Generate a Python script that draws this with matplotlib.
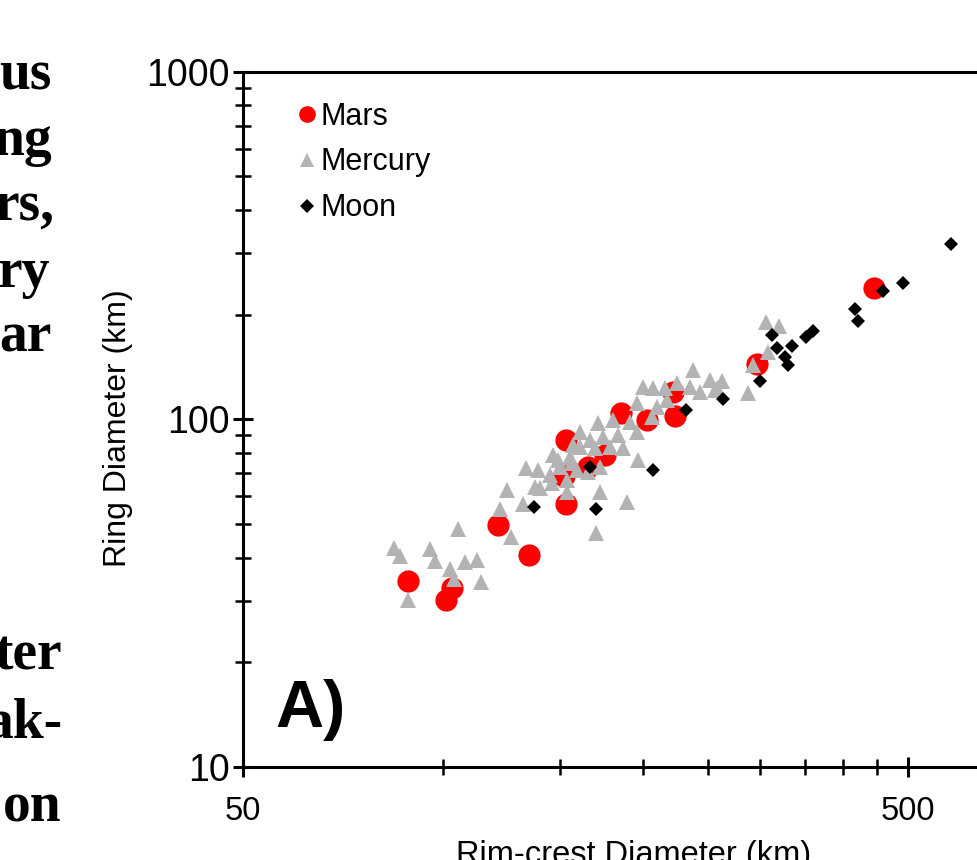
"""Figure A: ring diameter vs rim-crest diameter for peak-ring basins."""
import matplotlib
matplotlib.use("Agg")
import matplotlib.pyplot as plt
from matplotlib.lines import Line2D
from matplotlib.ticker import FixedLocator, FixedFormatter, NullFormatter

plt.rcParams["font.family"] = ["Liberation Sans", "DejaVu Sans"]

# values (km)
mars_rim = [88.5, 102.9, 101.0, 121.0, 134.6, 153.0, 152.0, 153.0, 165.0,
            175.0, 185.0, 202.6, 221.7, 223.0, 296.6, 444.9]
mars_ring = [34.3, 32.7, 30.2, 49.7, 40.7, 57.1, 68.7, 87.2, 73.0,
             79.0, 104.3, 99.6, 119.9, 102.3, 144.3, 238.8]

mercury_rim = [84.3, 86.1, 95.5, 97.2, 105.2, 102.3, 103.8, 107.8, 112.4, 113.9,
               88.5, 124.7, 121.7, 126.4, 131.8, 133.2, 138.8, 137.4, 139.8, 145.7,
               146.2, 148.8, 153.6, 155.2, 156.2, 159.0, 156.8, 160.6, 160.6, 166.3,
               169.2, 171.0, 173.9, 178.2, 180.0, 183.2, 186.4, 191.0, 195.6, 195.6,
               196.3, 199.8, 206.1, 206.8, 209.7, 215.6, 217.1, 224.8, 235.2, 237.6,
               243.4, 252.0, 258.2, 172.2, 189.0, 169.8, 165.2, 172.2, 144.7, 153.6,
               149.9, 306.0, 320.1, 292.5, 287.5, 262.7, 256.4, 308.2]
mercury_ring = [42.7, 40.5, 42.4, 39.1, 48.4, 37.1, 34.7, 38.9, 39.4, 34.1,
                30.2, 62.7, 55.2, 45.9, 57.1, 72.5, 71.5, 63.9, 63.5, 65.6,
                79.0, 76.4, 61.8, 78.0, 74.9, 71.5, 84.4, 92.0, 83.3, 87.2,
                82.8, 97.6, 89.0, 83.3, 99.6, 90.2, 82.8, 98.3, 92.0, 111.5,
                76.4, 124.0, 101.6, 123.1, 108.6, 123.1, 113.7, 127.3, 124.0, 138.7,
                119.9, 129.8, 123.1, 61.8, 57.9, 47.1, 70.6, 73.0, 69.2, 66.9,
                73.0, 190.6, 185.6, 143.4, 119.1, 128.9, 121.5, 156.3]

moon_rim = [581.0, 491.9, 459.0, 416.6, 421.0, 360.0, 351.5, 334.9, 312.5, 317.9,
            326.8, 330.2, 299.7, 263.6, 231.9, 166.3, 206.9, 136.9, 169.8]
moon_ring = [319.6, 246.9, 234.1, 207.8, 191.9, 179.6, 172.6, 162.6, 174.9, 160.5,
             151.2, 143.4, 128.9, 114.5, 106.4, 73.0, 71.5, 56.0, 55.2]

x_major = [50, 500]
x_minor = [100, 150, 200, 250, 300, 350, 400, 450]
y_major = [10, 100, 1000]
y_minor = [20, 30, 40, 50, 60, 70, 80, 90, 200, 300, 400, 500, 600, 700, 800, 900]

# surrounding paragraph text (clipped at the left edge of the page crop)
para_lines = ["us", "ng", "rs,", "ry", "ar", "ter", "ak-", "on"]

RED = "#ff0000"
GREY = "#b3b3b3"


def main():
    W, H = 978, 860
    fig = plt.figure(figsize=(W / 100, H / 100), dpi=100)
    ax = fig.add_axes([243.3 / W, 93 / H, 781.4 / W, 695.3 / H])

    ax.plot(mars_rim, mars_ring, "o", color=RED, ms=16, mew=0, zorder=3)
    ax.plot(mercury_rim, mercury_ring, "^", color=GREY, ms=11.5, mew=0, zorder=4)
    ax.plot(moon_rim, moon_ring, "D", color="black", ms=7, mew=0, zorder=5)

    ax.set_xscale("log")
    ax.set_yscale("log")
    ax.set_xlim(50, 750)
    ax.set_ylim(10, 1000)

    ax.xaxis.set_major_locator(FixedLocator(x_major))
    ax.xaxis.set_major_formatter(FixedFormatter([str(v) for v in x_major]))
    ax.xaxis.set_minor_locator(FixedLocator(x_minor))
    ax.xaxis.set_minor_formatter(NullFormatter())
    ax.yaxis.set_major_locator(FixedLocator(y_major))
    ax.yaxis.set_major_formatter(FixedFormatter([str(v) for v in y_major]))
    ax.yaxis.set_minor_locator(FixedLocator(y_minor))
    ax.yaxis.set_minor_formatter(NullFormatter())

    for s in ax.spines.values():
        s.set_linewidth(2.2)
    ax.tick_params(which="major", direction="inout", length=14, width=2.2)
    ax.tick_params(which="minor", direction="inout", length=11, width=1.8)
    ax.tick_params(axis="x", which="major", pad=14, labelsize=23.5)
    ax.tick_params(axis="y", which="major", pad=3, labelsize=27)

    ax.set_xlabel("Rim-crest Diameter (km)", fontsize=23.5)
    ax.set_ylabel("Ring Diameter (km)", fontsize=23)
    ax.xaxis.set_label_coords(0.5, -0.105)
    ax.yaxis.set_label_coords(-0.141, 0.488)

    handles = [
        Line2D([], [], ls="none", marker="o", color=RED, ms=12, mew=0),
        Line2D([], [], ls="none", marker="^", color=GREY, ms=10.5, mew=0),
        Line2D([], [], ls="none", marker="D", color="black", ms=7.5, mew=0),
    ]
    ax.legend(handles, ["Mars", "Mercury", "Moon"], loc="upper left",
              bbox_to_anchor=(0.070, 0.957), frameon=False, fontsize=22,
              handlelength=0.6, handletextpad=0.15, labelspacing=0.52,
              borderpad=0, borderaxespad=0, numpoints=1)

    fig.text(275 / W, 1 - 727 / H, "A)", fontsize=48, fontweight="bold",
             ha="left", va="baseline")

    baselines = [90, 155, 220, 287, 352, 670, 737, 822]
    rights = [52, 52, 55, 50, 52, 62, 62, 62]
    for txt, b, r in zip(para_lines, baselines, rights):
        fig.text(r / W, 1 - b / H, txt, fontsize=40, fontweight="bold",
                 family=["Liberation Serif", "DejaVu Serif"],
                 ha="right", va="baseline")

    fig.savefig("out.png", dpi=100)


if __name__ == "__main__":
    main()
